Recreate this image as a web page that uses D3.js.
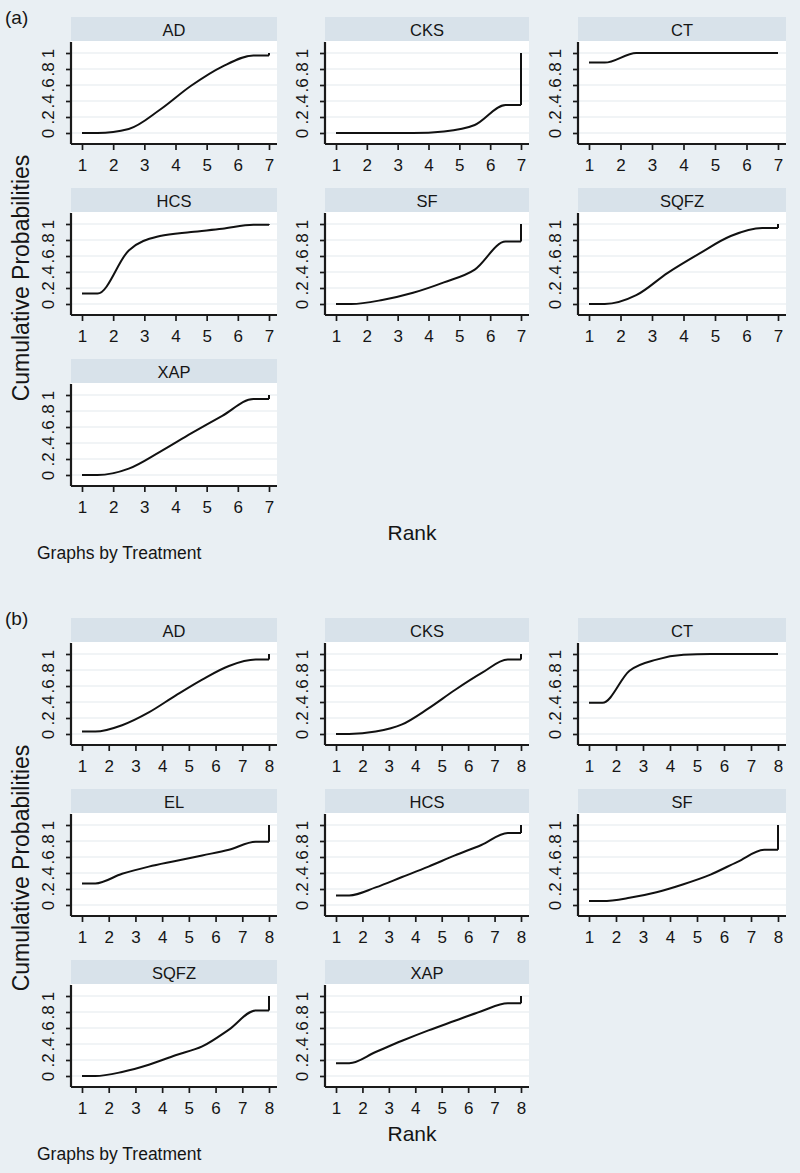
<!DOCTYPE html>
<html><head><meta charset="utf-8">
<script src="https://cdn.jsdelivr.net/npm/d3@7"></script>
<style>
body{margin:0;background:#e9eff3}
svg{display:block}
text{font-family:"Liberation Sans",Arial,sans-serif;fill:#151515}
</style>
</head><body>
<svg id="chart" width="800" height="1173"></svg>
<script>
// ---------- data ----------
const ranksA = [1, 2, 3, 4, 5, 6, 7];
const ranksB = [1, 2, 3, 4, 5, 6, 7, 8];
const yTicks = [0, 0.2, 0.4, 0.6, 0.8, 1];
const yTickLabels = ["0", ".2", ".4", ".6", ".8", "1"];

const treatmentsA = ["AD", "CKS", "CT", "HCS", "SF", "SQFZ", "XAP"];
const a_AD   = [0.00, 0.05, 0.29, 0.59, 0.83, 0.97, 1];
const a_CKS  = [0.00, 0.00, 0.00, 0.02, 0.10, 0.35, 1];
const a_CT   = [0.88, 1.00, 1.00, 1.00, 1.00, 1.00, 1];
const a_HCS  = [0.13, 0.67, 0.85, 0.90, 0.94, 0.99, 1];
const a_SF   = [0.00, 0.05, 0.14, 0.27, 0.43, 0.78, 1];
const a_SQFZ = [0.00, 0.11, 0.39, 0.63, 0.85, 0.95, 1];
const a_XAP  = [0.00, 0.08, 0.29, 0.52, 0.74, 0.95, 1];

const treatmentsB = ["AD", "CKS", "CT", "EL", "HCS", "SF", "SQFZ", "XAP"];
const b_AD   = [0.03, 0.11, 0.27, 0.48, 0.68, 0.85, 0.93, 1];
const b_CKS  = [0.00, 0.03, 0.12, 0.32, 0.55, 0.76, 0.93, 1];
const b_CT   = [0.39, 0.79, 0.93, 0.99, 1.00, 1.00, 1.00, 1];
const b_EL   = [0.27, 0.39, 0.48, 0.55, 0.62, 0.69, 0.79, 1];
const b_HCS  = [0.12, 0.22, 0.35, 0.48, 0.62, 0.75, 0.90, 1];
const b_SF   = [0.05, 0.09, 0.16, 0.26, 0.38, 0.54, 0.69, 1];
const b_SQFZ = [0.00, 0.05, 0.14, 0.26, 0.37, 0.58, 0.82, 1];
const b_XAP  = [0.16, 0.30, 0.44, 0.57, 0.69, 0.81, 0.91, 1];

const seriesA = [a_AD, a_CKS, a_CT, a_HCS, a_SF, a_SQFZ, a_XAP];
const seriesB = [b_AD, b_CKS, b_CT, b_EL, b_HCS, b_SF, b_SQFZ, b_XAP];

// ---------- layout ----------
const colLeft = [71, 325, 578];
const colRight = [277, 529, 786];
const rowPitch = 171;
const sections = [
  {label: "(a)", top: 17, names: treatmentsA, series: seriesA, ranks: ranksA, ytitleY: 278},
  {label: "(b)", top: 618, names: treatmentsB, series: seriesB, ranks: ranksB, ytitleY: 868}
];

const svg = d3.select("#chart");
svg.append("rect").attr("width", 800).attr("height", 1173).attr("fill", "#e9eff3");

function drawPanel(g, name, values, ranks, L, R, T) {
  const N = ranks.length;
  const x = d3.scaleLinear().domain([1, N]).range([L + 11, R - 8]);
  const y = d3.scaleLinear().domain([0, 1]).range([T + 116, T + 36]);

  g.append("rect").attr("x", L).attr("y", T).attr("width", R - L).attr("height", 24)
    .attr("fill", "#d8e2ea");
  g.append("text").attr("x", (L + R) / 2).attr("y", T + 12.5)
    .attr("text-anchor", "middle").attr("dominant-baseline", "central")
    .attr("font-size", 16.5).text(name);

  g.append("rect").attr("x", L).attr("y", T + 24).attr("width", R - L).attr("height", 103)
    .attr("fill", "#ffffff");

  g.selectAll(null).data(yTicks).join("line")
    .attr("x1", L).attr("x2", R)
    .attr("y1", d => y(d)).attr("y2", d => y(d))
    .attr("stroke", "#e3e9ee").attr("stroke-width", 1.2);

  const ya = g.append("g").attr("transform", `translate(${L},0)`)
    .call(d3.axisLeft(y).tickValues(yTicks).tickFormat((d, i) => yTickLabels[i]).tickSize(5).tickSizeOuter(0));
  ya.select(".domain").remove();
  ya.selectAll(".tick line").attr("stroke", "#1a1a1a").attr("stroke-width", 1.7);
  ya.selectAll(".tick text")
    .attr("x", null).attr("dy", null)
    .attr("transform", "translate(-23,0) rotate(-90)")
    .attr("text-anchor", "middle").attr("dominant-baseline", "central")
    .attr("font-size", 17).attr("fill", "#151515")
    .style("font-family", '"Liberation Sans",Arial,sans-serif');
  g.append("line").attr("x1", L).attr("x2", L).attr("y1", T + 25).attr("y2", T + 127)
    .attr("stroke", "#1a1a1a").attr("stroke-width", 2.2);

  const xa = g.append("g").attr("transform", `translate(0,${T + 127})`)
    .call(d3.axisBottom(x).tickValues(ranks).tickFormat(d3.format("d")).tickSize(6).tickSizeOuter(0));
  xa.select(".domain").remove();
  xa.selectAll(".tick line").attr("stroke", "#1a1a1a").attr("stroke-width", 1.7);
  xa.selectAll(".tick text").attr("y", 15).attr("dy", "0.71em")
    .attr("font-size", 17).attr("fill", "#151515")
    .style("font-family", '"Liberation Sans",Arial,sans-serif');
  g.append("line").attr("x1", L).attr("x2", R).attr("y1", T + 127).attr("y2", T + 127)
    .attr("stroke", "#1a1a1a").attr("stroke-width", 2.2);

  const pts = [[1, values[0]]];
  for (let k = 1; k < N; k++) pts.push([k + 0.5, values[k - 1]]);
  pts.push([N, values[N - 2]]);
  const line = d3.line().x(d => x(d[0])).y(d => y(d[1])).curve(d3.curveMonotoneX);
  g.append("path").attr("d", line(pts)).attr("fill", "none")
    .attr("stroke", "#111").attr("stroke-width", 2).attr("stroke-linejoin", "round");
  const jump = [[N, values[N - 2]], [N, values[N - 1]]];
  g.append("path").attr("d", d3.line().x(d => x(d[0])).y(d => y(d[1]))(jump))
    .attr("fill", "none").attr("stroke", "#111").attr("stroke-width", 2);
}

sections.forEach(sec => {
  const g = svg.append("g");
  g.append("text").attr("x", 5).attr("y", sec.top + 7).attr("font-size", 19).text(sec.label);
  sec.names.forEach((name, i) => {
    const col = i % 3, row = Math.floor(i / 3);
    drawPanel(g, name, sec.series[i], sec.ranks, colLeft[col], colRight[col], sec.top + row * rowPitch);
  });
  const lastRowTop = sec.top + 2 * rowPitch;
  g.append("text")
    .attr("transform", `translate(29,${sec.ytitleY}) rotate(-90)`)
    .attr("text-anchor", "middle").attr("font-size", 23).text("Cumulative Probabilities");
  g.append("text").attr("x", 412).attr("y", lastRowTop + 181)
    .attr("text-anchor", "middle").attr("font-size", 21).text("Rank");
  g.append("text").attr("x", 37).attr("y", lastRowTop + 200)
    .attr("font-size", 17.5).text("Graphs by Treatment");
});
</script>
</body></html>
